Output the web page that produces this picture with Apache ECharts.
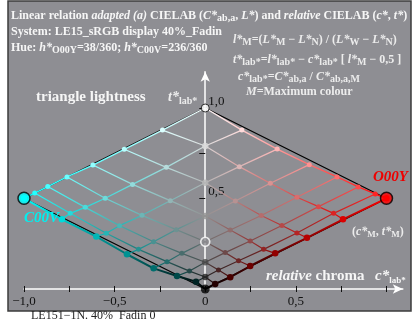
<!DOCTYPE html>
<html><head><meta charset="utf-8">
<script src="https://cdn.jsdelivr.net/npm/echarts@6/dist/echarts.min.js"></script>
<style>html,body{margin:0;padding:0;background:#fff}#c{width:413px;height:323px}</style>
</head><body><div id="c"></div>
<script>
// ---------- data (c*lab*, t*lab*) ----------
const grayT = [1.000, 0.790, 0.587, 0.403, 0.261, 0.148, 0.066, 0.000];

// red side (O00Y): rows of constant blackness n, points m = 1 .. 7-n
const redRow0 = [[0.202,0.878],[0.397,0.773],[0.574,0.687],[0.727,0.619],[0.844,0.564],[0.938,0.525],[1.000,0.501]];
const redRow1 = [[0.188,0.676],[0.359,0.584],[0.506,0.507],[0.625,0.455],[0.708,0.418],[0.760,0.385]];
const redRow2 = [[0.166,0.486],[0.309,0.406],[0.423,0.351],[0.506,0.309],[0.561,0.283]];
const redRow3 = [[0.138,0.326],[0.248,0.265],[0.322,0.219],[0.386,0.197]];
const redRow4 = [[0.110,0.201],[0.184,0.156],[0.248,0.127]];
const redRow5 = [[0.073,0.105],[0.138,0.065]];
const redRow6 = [[0.055,0.028]];

// cyan side (C00V)
const cyanRow0 = [[-0.236,0.878],[-0.447,0.772],[-0.620,0.685],[-0.763,0.619],[-0.869,0.566],[-0.941,0.530],[-1.000,0.501]];
const cyanRow1 = [[-0.215,0.672],[-0.401,0.578],[-0.552,0.501],[-0.662,0.451],[-0.745,0.418],[-0.791,0.385]];
const cyanRow2 = [[-0.193,0.488],[-0.349,0.407],[-0.473,0.350],[-0.546,0.308],[-0.601,0.290]];
const cyanRow3 = [[-0.160,0.328],[-0.285,0.261],[-0.368,0.219],[-0.432,0.192]];
const cyanRow4 = [[-0.129,0.197],[-0.211,0.151],[-0.285,0.114]];
const cyanRow5 = [[-0.087,0.099],[-0.156,0.072]];
const cyanRow6 = [[-0.051,0.040]];

const whitePoint = [0, 1.0];
const blackPoint = [0, 0.0];
const redVertex = [1.0, 0.5];
const cyanVertex = [-1.0, 0.5];

const xTickValues = [-1, -0.75, -0.5, -0.25, 0, 0.25, 0.5, 0.75, 1];
const xLabelValues = [-1, -0.5, 0, 0.5];
const yTickValues = [0.5, 0.75, 1.0];
const yLabelValues = [0.5, 1.0];

// ---------- build ----------
const redRows = [redRow0, redRow1, redRow2, redRow3, redRow4, redRow5, redRow6];
const cyanRows = [cyanRow0, cyanRow1, cyanRow2, cyanRow3, cyanRow4, cyanRow5, cyanRow6];
const BG = '#8e8e93';
const F = 'Liberation Serif';
const X_MIN = -1, X_MAX = 1.09, GRID_L = 24, GRID_R = 10.2;
const plotW = 413 - GRID_L - GRID_R;
const yAxisOffset = -plotW * (0 - X_MIN) / (X_MAX - X_MIN);

function pt(rows, n, m) { return m === 0 ? [0, grayT[n]] : rows[n][m - 1]; }
function col(side, w, n, m) {
  let r, g, b;
  if (side === 'r') { r = 255 * (w + m) / 7; g = b = 255 * w / 7; }
  else { r = 255 * w / 7; g = b = 255 * (w + m) / 7; }
  return 'rgb(' + Math.round(r) + ',' + Math.round(g) + ',' + Math.round(b) + ')';
}
function grad(side, a, b) {
  return side === 'r'
    ? {type:'linear', x:0, y:0, x2:1, y2:0, colorStops:[{offset:0,color:a},{offset:1,color:b}]}
    : {type:'linear', x:1, y:0, x2:0, y2:0, colorStops:[{offset:0,color:a},{offset:1,color:b}]};
}

const series = [];
[[whitePoint, redVertex, blackPoint], [whitePoint, cyanVertex, blackPoint]].forEach(d => {
  series.push({type:'line', data:d, showSymbol:false, symbol:'none', clip:false, silent:true,
    lineStyle:{color:'#000', width:1.3}, z:2});
});

function addSide(rows, side) {
  for (let w = 0; w <= 6; w++) {
    const d = [];
    for (let n = 7 - w; n >= 0; n--) d.push(pt(rows, n, 7 - n - w));
    const c0 = col(side, w, 7 - w, 0), c1 = col(side, w, 0, 7 - w);
    series.push({type:'line', data:d, symbol:'none', showSymbol:false, clip:false, silent:true,
      lineStyle:{color:grad(side, c0, c1), width: w === 0 ? 2 : 1.2}, z:3});
  }
  for (let n = 0; n <= 6; n++) {
    const d = [];
    for (let m = 0; m <= 7 - n; m++) {
      const w = 7 - n - m;
      const item = {value: pt(rows, n, m), itemStyle:{color: col(side, w, n, m), borderWidth:0}};
      if (m === 0) item.symbol = 'none';
      if (w === 0) item.symbolSize = 6.5;
      d.push(item);
    }
    const c0 = col(side, 7 - n, n, 0), c1 = col(side, 0, n, 7 - n);
    series.push({type:'line', data:d, symbol:'circle', symbolSize:5, showSymbol:true, clip:false, silent:true,
      lineStyle:{color:grad(side, c0, c1), width: n === 0 ? 1.4 : 1.2}, z:4});
  }
}
addSide(cyanRows, 'c');
addSide(redRows, 'r');

const grayData = grayT.map((t, n) => {
  const w = 7 - n;
  const g = Math.round(255 * w / 7);
  const it = {value:[0, t], itemStyle:{color:'rgb(' + g + ',' + g + ',' + g + ')', borderWidth:0}, symbolSize:6.5};
  if (n === 0) { it.itemStyle = {color:'#fff', borderColor:'#000', borderWidth:1}; it.symbolSize = 8; }
  if (n === 4) { it.itemStyle = {color:BG, borderColor:'#fff', borderWidth:1.6}; it.symbolSize = 9; }
  if (n === 7) it.symbolSize = 9;
  return it;
});
series.push({type:'scatter', data:grayData, symbol:'circle', clip:false, silent:true, z:6});
series.push({type:'scatter', clip:false, silent:true, z:7, symbol:'circle', symbolSize:12,
  data:[{value:redRow0[6], itemStyle:{color:'#ff0000', borderColor:'#000', borderWidth:1.5}},
        {value:cyanRow0[6], itemStyle:{color:'#00ffff', borderColor:'#000', borderWidth:1.5}}]});

// ---------- text ----------
function rich(size, color, subRatio) {
  const lh = Math.round(size * 1.25);
  return {
    b:{fontFamily:F, fontWeight:'bold', fontSize:size, lineHeight:lh, fill:color},
    i:{fontFamily:F, fontWeight:'bold', fontStyle:'italic', fontSize:size, lineHeight:lh, fill:color},
    r:{fontFamily:F, fontSize:size, lineHeight:lh, fill:color},
    s:{fontFamily:F, fontWeight:'bold', fontSize:Math.round(size * (subRatio || 0.8)), lineHeight:Math.round(size * 0.5), verticalAlign:'bottom', fill:color}
  };
}
function txt(x, y, parts, size, color, subRatio) {
  return {type:'text', x:x, y:y, z:100, silent:true,
    style:{text: parts.map(p => '{' + p[0] + '|' + p[1] + '}').join(''), rich: rich(size, color, subRatio),
      fill: color, align:'left', verticalAlign:'middle'}};
}
const W = '#f6f6f6';
const graphics = [
  {type:'rect', z:-10, silent:true, shape:{x:8, y:1, width:403, height:310}, style:{fill:BG, stroke:'#3c3c3c', lineWidth:1.5}},
  txt(11, 16, [['b','Linear relation '],['i','adapted (a)'],['b',' CIELAB ('],['i','C*'],['s','ab,a'],['b',', '],['i','L*'],['b',') and '],['i','relative'],['b',' CIELAB ('],['i','c*'],['b',', '],['i','t*'],['b',')']], 12, W),
  txt(11, 32, [['b','System: LE15_sRGB display 40%_Fadin']], 12, W),
  txt(11, 48, [['b','Hue: '],['i','h*'],['s','O00Y'],['b','=38/360; '],['i','h*'],['s','C00V'],['b','=236/360']], 12, W),
  txt(233, 40, [['i','l*'],['s','M'],['b','=('],['i','L*'],['s','M'],['b',' − '],['i','L*'],['s','N'],['b',') / ('],['i','L*'],['s','W'],['b',' − '],['i','L*'],['s','N'],['b',')']], 12, '#ececec'),
  txt(233, 60, [['i','t*'],['s','lab*'],['b','='],['i','l*'],['s','lab*'],['b',' − '],['i','c*'],['s','lab*'],['b',' [ '],['i','l*'],['s','M'],['b',' − 0,5 ]']], 12, '#ececec'),
  txt(238, 77, [['i','c*'],['s','lab*'],['b','='],['i','C*'],['s','ab,a'],['b',' / '],['i','C*'],['s','ab,a,M']], 12, '#ececec'),
  txt(246, 92, [['i','M'],['b','=Maximum colour']], 12, '#ececec'),
  txt(36, 97, [['b','triangle lightness']], 15, W),
  txt(168, 97, [['i','t*'],['s','lab*']], 14, '#ededed', 0.72),
  txt(373, 177, [['i','O00Y']], 15, '#ee0000'),
  txt(24, 218, [['i','C00V']], 15, '#00f0f0'),
  txt(352, 232, [['b','('],['i','c*'],['s','M'],['b',', '],['i','t*'],['s','M'],['b',')']], 12, '#ececec', 0.75),
  txt(266, 276, [['i','relative'],['b',' chroma']], 15, W),
  txt(375, 276, [['i','c*'],['s','lab*']], 15, W, 0.6),
  txt(31, 316, [['r','LE151−1N. 40%  Fadin 0']], 12, '#222')
];

function fmt(v) {
  if (Math.abs(v) < 1e-9) return '0';
  return (v < 0 ? '−' : '') + Math.abs(v).toFixed(1).replace('.', ',');
}

const chart = echarts.init(document.getElementById('c'), null, {renderer:'canvas'});
chart.setOption({
  animation:false,
  backgroundColor:'#ffffff',
  grid:{left:GRID_L, right:GRID_R, top:71.8, bottom:34, containLabel:false, outerBoundsMode:'none'},
  xAxis:[{
    type:'value', min:X_MIN, max:X_MAX, position:'bottom',
    axisLine:{onZero:true, lineStyle:{color:'#fff', width:1.5}, symbol:['none','arrow'], symbolSize:[7,10]},
    axisTick:{show:true, customValues:xTickValues, length:3, lineStyle:{color:'#111', width:1}},
    axisLabel:{show:true, customValues:xLabelValues, formatter:fmt, color:'#111', fontFamily:F, fontSize:13, margin:6},
    splitLine:{show:false}
  },{
    type:'value', min:X_MIN, max:X_MAX, position:'bottom',
    axisLine:{show:false, onZero:true},
    axisTick:{show:true, inside:true, customValues:xTickValues, length:3, lineStyle:{color:'#111', width:1}},
    axisLabel:{show:false}, splitLine:{show:false}
  }],
  yAxis:{
    type:'value', min:0, max:1.2, position:'left', offset:yAxisOffset,
    axisLine:{onZero:false, lineStyle:{color:'#fff', width:1.5}, symbol:['none','arrow'], symbolSize:[7,10]},
    axisTick:{show:true, customValues:yTickValues, length:6, lineStyle:{color:'#111', width:1}},
    axisLabel:{show:true, inside:true, customValues:yLabelValues, formatter:fmt, color:'#111', fontFamily:F, fontSize:13, margin:3, verticalAlign:'bottom'},
    splitLine:{show:false}
  },
  graphic:graphics,
  series:series
});
</script></body></html>
